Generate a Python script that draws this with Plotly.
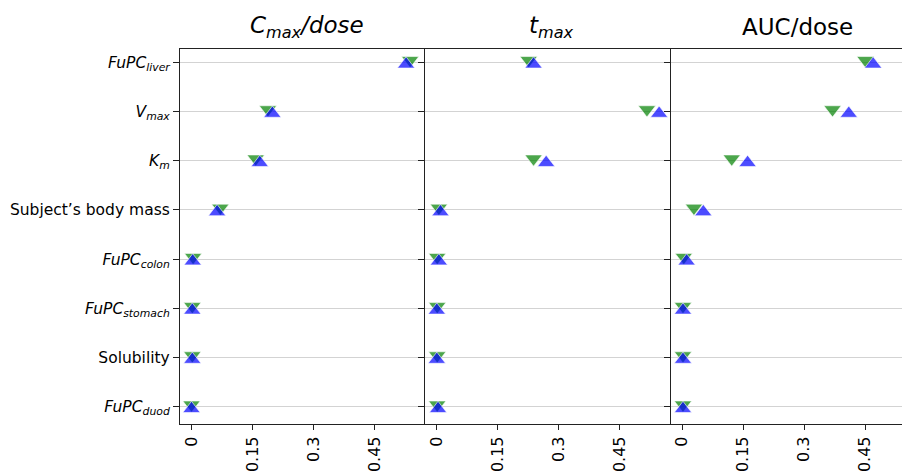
import plotly.graph_objects as go

# Parameters, listed top to bottom as in the chart
params = ["<i>FuPC<sub>liver</sub></i>", "<i>V<sub>max</sub></i>", "<i>K<sub>m</sub></i>",
          "Subject’s body mass", "<i>FuPC<sub>colon</sub></i>", "<i>FuPC<sub>stomach</sub></i>",
          "Solubility", "<i>FuPC<sub>duod</sub></i>"]

panel_titles = ["<i>C<sub>max</sub>/dose</i>", "<i>t<sub>max</sub></i>", "AUC/dose"]

cmax_green = [0.538, 0.188, 0.158, 0.071, 0.004, 0.002, 0.002, 0.000]
cmax_blue = [0.528, 0.199, 0.168, 0.063, 0.003, 0.002, 0.002, 0.000]
tmax_green = [0.226, 0.517, 0.238, 0.005, 0.001, 0.001, 0.001, 0.001]
tmax_blue = [0.238, 0.547, 0.269, 0.009, 0.005, 0.000, 0.000, 0.003]
auc_green = [0.451, 0.370, 0.122, 0.029, 0.004, 0.002, 0.002, 0.002]
auc_blue = [0.470, 0.410, 0.161, 0.052, 0.011, 0.002, 0.002, 0.002]

x_tickvals = [0, 0.15, 0.3, 0.45]
x_ticktext = ["0", "0.15", "0.3", "0.45"]

W, H = 902, 475
ML, MR, MT, MB = 179.5, 0, 49, 51
plot_w = W - ML - MR
panel_px = 245.5
px_per_unit = 406.7
x0 = -0.0283

domains = [[0, panel_px / plot_w], [panel_px / plot_w, 2 * panel_px / plot_w], [2 * panel_px / plot_w, 1]]
ranges = []
for d in domains:
    wpx = (d[1] - d[0]) * plot_w
    ranges.append([x0, x0 + wpx / px_per_unit])

FONT = "DejaVu Sans"
fig = go.Figure()

series = [(cmax_green, cmax_blue), (tmax_green, tmax_blue), (auc_green, auc_blue)]
for i, (g, b) in enumerate(series):
    xa = "x" if i == 0 else f"x{i+1}"
    ya = "y" if i == 0 else f"y{i+1}"
    fig.add_trace(go.Scatter(x=g, y=params, mode="markers", xaxis=xa, yaxis=ya,
                             marker=dict(symbol="triangle-up", angle=180, standoff=2, size=15,
                                         color="rgba(0,128,0,0.7)",
                                         line=dict(color="white", width=0.6)),
                             showlegend=False, cliponaxis=False))
    fig.add_trace(go.Scatter(x=b, y=params, mode="markers", xaxis=xa, yaxis=ya,
                             marker=dict(symbol="triangle-up", angle=0, standoff=2, size=15,
                                         color="rgba(0,0,255,0.7)",
                                         line=dict(color="white", width=0.6)),
                             showlegend=False, cliponaxis=False))

layout = dict(width=W, height=H, margin=dict(l=ML, r=MR, t=MT, b=MB),
              paper_bgcolor="white", plot_bgcolor="white",
              font=dict(family=FONT, size=16, color="black"))

for i in range(3):
    xk = "xaxis" if i == 0 else f"xaxis{i+1}"
    yk = "yaxis" if i == 0 else f"yaxis{i+1}"
    layout[xk] = dict(domain=domains[i], range=ranges[i], anchor="y" if i == 0 else f"y{i+1}",
                      tickvals=x_tickvals, ticktext=x_ticktext, tickangle=-90,
                      ticks="outside", ticklen=5, tickcolor="#222", tickwidth=1,
                      showgrid=False, zeroline=False, showline=True, linecolor="#222", linewidth=1.2,
                      mirror=True, tickfont=dict(family=FONT, size=16, color="black"))
    layout[yk] = dict(domain=[0, 1], range=[-0.35, 7.27], anchor="x" if i == 0 else f"x{i+1}",
                      type="category", categoryorder="array", categoryarray=params[::-1],
                      ticks="outside", ticklen=6, tickcolor="#222", tickwidth=1,
                      showticklabels=(i == 0), showgrid=True, gridcolor="#d3d3d3", gridwidth=1,
                      zeroline=False, showline=True, linecolor="#222", linewidth=1.2,
                      tickfont=dict(family=FONT, size=15.5, color="black"))
    if i > 0:
        layout[yk]["matches"] = "y"

fig.update_layout(**layout)

title_x = [307, 551, 797]
for t, xc in zip(panel_titles, title_x):
    fig.add_annotation(text=t, xref="paper", yref="paper",
                       x=(xc - ML) / plot_w, y=1 + (49 - 27) / (H - MT - MB),
                       xanchor="center", yanchor="middle", showarrow=False,
                       font=dict(family=FONT, size=23, color="black"))

fig.write_html("out.html")
